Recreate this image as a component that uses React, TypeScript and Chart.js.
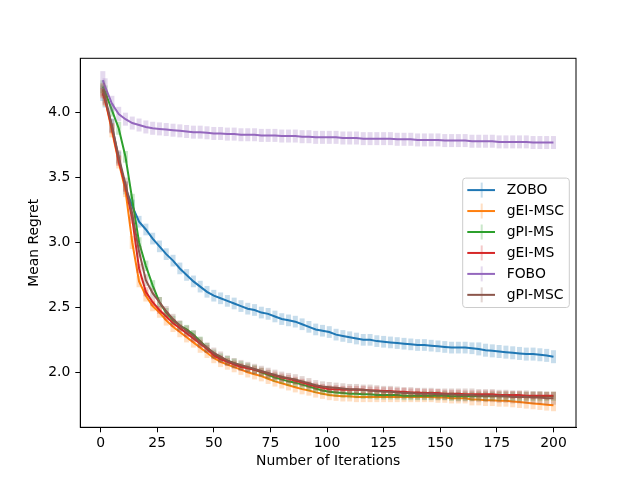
import { useEffect, useRef } from "react";
import { Chart, registerables } from "chart.js";

Chart.register(...registerables);

// iteration numbers the values were read at
const ITERS = [
  1, 2, 5, 8, 11, 14, 17, 20, 23, 26,
  29, 32, 35, 38, 41, 44, 47, 50, 53, 56,
  59, 62, 65, 68, 71, 74, 77, 80, 83, 86,
  89, 92, 95, 98, 101, 104, 107, 110, 113, 116,
  119, 122, 125, 128, 131, 134, 137, 140, 143, 146,
  149, 152, 155, 158, 161, 164, 167, 170, 173, 176,
  179, 182, 185, 188, 191, 194, 197, 200,
];

const LABELS = ["ZOBO", "gEI-MSC", "gPI-MS", "gEI-MS", "FOBO", "gPI-MSC"];
const COLORS = ["#1f77b4", "#ff7f0e", "#2ca02c", "#d62728", "#9467bd", "#8c564b"];

const ZOBO = [
  4.15, 4.1, 3.9, 3.65, 3.42, 3.28, 3.16, 3.1, 3.03, 2.97,
  2.91, 2.86, 2.8, 2.75, 2.7, 2.66, 2.62, 2.59, 2.57, 2.55,
  2.53, 2.51, 2.49, 2.48, 2.46, 2.45, 2.43, 2.41, 2.4, 2.39,
  2.37, 2.35, 2.33, 2.32, 2.31, 2.29, 2.28, 2.27, 2.26, 2.25,
  2.25, 2.24, 2.235, 2.23, 2.225, 2.22, 2.215, 2.21, 2.21, 2.205,
  2.2, 2.195, 2.19, 2.19, 2.19, 2.185, 2.18, 2.17, 2.165, 2.16,
  2.155, 2.15, 2.145, 2.14, 2.14, 2.135, 2.13, 2.12,
];
const GEI_MSC = [
  4.17, 4.1, 3.86, 3.62, 3.4, 3.0, 2.7, 2.59, 2.51, 2.46,
  2.4, 2.35, 2.31, 2.27, 2.23, 2.19, 2.15, 2.11, 2.08, 2.06,
  2.04, 2.02, 2.0, 1.985, 1.97, 1.95, 1.93, 1.915, 1.9, 1.885,
  1.87, 1.86, 1.845, 1.835, 1.825, 1.82, 1.815, 1.815, 1.81, 1.81,
  1.81, 1.81, 1.81, 1.81, 1.81, 1.81, 1.81, 1.81, 1.81, 1.81,
  1.805, 1.805, 1.8, 1.8, 1.8, 1.79, 1.79, 1.785, 1.785, 1.78,
  1.78, 1.775, 1.77, 1.765, 1.76, 1.755, 1.75, 1.745,
];
const GPI_MS = [
  4.2, 4.16, 4.02, 3.88, 3.66, 3.33, 3.0, 2.82, 2.67, 2.54,
  2.46, 2.4, 2.36, 2.33, 2.29, 2.24, 2.19, 2.14, 2.11, 2.09,
  2.07, 2.05, 2.035, 2.02, 2.0, 1.98, 1.96, 1.945, 1.93, 1.92,
  1.905, 1.89, 1.875, 1.86, 1.85, 1.845, 1.84, 1.835, 1.835, 1.83,
  1.83, 1.825, 1.825, 1.825, 1.825, 1.82, 1.82, 1.82, 1.82, 1.82,
  1.82, 1.82, 1.815, 1.815, 1.815, 1.815, 1.815, 1.815, 1.815, 1.815,
  1.815, 1.815, 1.815, 1.815, 1.815, 1.815, 1.815, 1.815,
];
const GEI_MS = [
  4.15, 4.1, 3.88, 3.63, 3.43, 3.18, 2.8, 2.62, 2.54, 2.48,
  2.43, 2.38, 2.34, 2.3, 2.26, 2.22, 2.18, 2.13, 2.1, 2.08,
  2.06, 2.04, 2.03, 2.02, 2.005, 1.99, 1.975, 1.96, 1.95, 1.935,
  1.92, 1.905, 1.89, 1.88, 1.87, 1.87, 1.865, 1.865, 1.865, 1.865,
  1.86, 1.86, 1.855, 1.855, 1.85, 1.85, 1.845, 1.845, 1.84, 1.84,
  1.84, 1.835, 1.835, 1.835, 1.83, 1.83, 1.83, 1.83, 1.83, 1.825,
  1.825, 1.825, 1.825, 1.82, 1.82, 1.82, 1.82, 1.82,
];
const FOBO = [
  4.25, 4.2, 4.07, 3.99, 3.95, 3.92, 3.905, 3.89, 3.88, 3.875,
  3.87, 3.865, 3.86, 3.855, 3.85, 3.85, 3.845, 3.84, 3.84, 3.835,
  3.835, 3.83, 3.83, 3.83, 3.825, 3.825, 3.825, 3.82, 3.82, 3.82,
  3.815, 3.815, 3.81, 3.81, 3.81, 3.81, 3.805, 3.805, 3.805, 3.8,
  3.8, 3.8, 3.8, 3.8, 3.795, 3.795, 3.795, 3.79, 3.79, 3.79,
  3.79, 3.785, 3.785, 3.785, 3.785, 3.78, 3.78, 3.78, 3.78, 3.775,
  3.775, 3.775, 3.775, 3.775, 3.77, 3.77, 3.77, 3.77,
];
const GPI_MSC = [
  4.18, 4.12, 3.9, 3.66, 3.45, 3.22, 2.93, 2.71, 2.61, 2.54,
  2.47, 2.41, 2.36, 2.32, 2.28, 2.23, 2.19, 2.15, 2.12, 2.09,
  2.07, 2.055, 2.04, 2.025, 2.01, 1.995, 1.98, 1.965, 1.955, 1.945,
  1.93, 1.915, 1.9, 1.89, 1.885, 1.88, 1.875, 1.87, 1.87, 1.865,
  1.86, 1.855, 1.85, 1.85, 1.845, 1.84, 1.84, 1.835, 1.835, 1.835,
  1.83, 1.83, 1.83, 1.825, 1.825, 1.825, 1.82, 1.82, 1.82, 1.815,
  1.815, 1.81, 1.81, 1.81, 1.805, 1.805, 1.8, 1.8,
];

// half widths of the error bars
const ZOBO_ERR = [
  0.06, 0.06, 0.055, 0.05, 0.05, 0.05, 0.045, 0.045, 0.045, 0.045,
  0.045, 0.045, 0.045, 0.045, 0.045, 0.045, 0.045, 0.045, 0.045, 0.045,
  0.045, 0.045, 0.045, 0.045, 0.045, 0.045, 0.045, 0.045, 0.045, 0.045,
  0.045, 0.045, 0.045, 0.045, 0.045, 0.045, 0.045, 0.045, 0.045, 0.045,
  0.045, 0.045, 0.045, 0.045, 0.045, 0.045, 0.045, 0.045, 0.045, 0.045,
  0.045, 0.045, 0.045, 0.045, 0.045, 0.045, 0.05, 0.05, 0.05, 0.05,
  0.05, 0.05, 0.05, 0.05, 0.05, 0.05, 0.05, 0.05,
];
const GEI_MSC_ERR = [
  0.05, 0.05, 0.05, 0.05, 0.05, 0.05, 0.045, 0.045, 0.04, 0.04,
  0.04, 0.04, 0.04, 0.04, 0.04, 0.04, 0.04, 0.04, 0.04, 0.04,
  0.04, 0.04, 0.04, 0.04, 0.04, 0.04, 0.04, 0.04, 0.04, 0.04,
  0.04, 0.04, 0.04, 0.04, 0.04, 0.04, 0.04, 0.04, 0.04, 0.04,
  0.04, 0.04, 0.04, 0.04, 0.04, 0.04, 0.04, 0.04, 0.04, 0.04,
  0.04, 0.04, 0.04, 0.04, 0.04, 0.045, 0.045, 0.045, 0.045, 0.045,
  0.045, 0.045, 0.045, 0.045, 0.045, 0.045, 0.045, 0.045,
];
const GPI_MS_ERR = [
  0.05, 0.05, 0.05, 0.05, 0.045, 0.045, 0.04, 0.04, 0.04, 0.04,
  0.035, 0.035, 0.035, 0.035, 0.035, 0.035, 0.035, 0.035, 0.035, 0.035,
  0.035, 0.035, 0.035, 0.035, 0.035, 0.035, 0.035, 0.035, 0.035, 0.035,
  0.035, 0.035, 0.035, 0.035, 0.035, 0.035, 0.035, 0.035, 0.035, 0.035,
  0.035, 0.035, 0.035, 0.035, 0.035, 0.035, 0.035, 0.035, 0.035, 0.035,
  0.035, 0.035, 0.035, 0.035, 0.035, 0.035, 0.035, 0.035, 0.035, 0.035,
  0.035, 0.035, 0.035, 0.035, 0.035, 0.035, 0.035, 0.035,
];
const GEI_MS_ERR = [
  0.04, 0.04, 0.04, 0.04, 0.04, 0.035, 0.035, 0.035, 0.03, 0.03,
  0.03, 0.03, 0.03, 0.03, 0.03, 0.03, 0.03, 0.03, 0.03, 0.03,
  0.03, 0.03, 0.03, 0.03, 0.03, 0.03, 0.03, 0.03, 0.03, 0.03,
  0.03, 0.03, 0.03, 0.03, 0.03, 0.03, 0.03, 0.03, 0.03, 0.03,
  0.03, 0.03, 0.03, 0.03, 0.03, 0.03, 0.03, 0.03, 0.03, 0.03,
  0.03, 0.03, 0.03, 0.03, 0.03, 0.03, 0.03, 0.03, 0.03, 0.03,
  0.03, 0.03, 0.03, 0.03, 0.03, 0.03, 0.03, 0.03,
];
const FOBO_ERR = [
  0.07, 0.065, 0.06, 0.055, 0.05, 0.05, 0.05, 0.05, 0.05, 0.05,
  0.05, 0.05, 0.05, 0.05, 0.05, 0.05, 0.05, 0.05, 0.05, 0.05,
  0.05, 0.05, 0.05, 0.05, 0.05, 0.05, 0.05, 0.05, 0.05, 0.05,
  0.05, 0.05, 0.05, 0.05, 0.05, 0.05, 0.05, 0.05, 0.05, 0.05,
  0.05, 0.05, 0.05, 0.05, 0.05, 0.05, 0.05, 0.05, 0.05, 0.05,
  0.05, 0.05, 0.05, 0.05, 0.05, 0.05, 0.05, 0.05, 0.05, 0.05,
  0.05, 0.05, 0.05, 0.05, 0.05, 0.05, 0.05, 0.05,
];
const GPI_MSC_ERR = [
  0.05, 0.05, 0.05, 0.05, 0.05, 0.05, 0.045, 0.045, 0.04, 0.04,
  0.04, 0.04, 0.04, 0.04, 0.04, 0.04, 0.04, 0.04, 0.04, 0.04,
  0.04, 0.04, 0.04, 0.04, 0.04, 0.04, 0.04, 0.04, 0.04, 0.04,
  0.04, 0.04, 0.04, 0.04, 0.04, 0.04, 0.04, 0.04, 0.04, 0.04,
  0.045, 0.045, 0.045, 0.045, 0.045, 0.045, 0.045, 0.045, 0.045, 0.045,
  0.045, 0.045, 0.045, 0.05, 0.05, 0.05, 0.05, 0.05, 0.05, 0.05,
  0.05, 0.05, 0.05, 0.05, 0.05, 0.05, 0.05, 0.05,
];

const MEANS = [ZOBO, GEI_MSC, GPI_MS, GEI_MS, FOBO, GPI_MSC];
const ERRORS = [ZOBO_ERR, GEI_MSC_ERR, GPI_MS_ERR, GEI_MS_ERR, FOBO_ERR, GPI_MSC_ERR];

const X_TICKS = [0, 25, 50, 75, 100, 125, 150, 175, 200];
const Y_TICKS = [2.0, 2.5, 3.0, 3.5, 4.0];

const FONT = "DejaVu Sans";
const FONT_SIZE = 13.9;

function withAlpha(hex: string, a: number) {
  const n = parseInt(hex.slice(1), 16);
  return `rgba(${(n >> 16) & 255}, ${(n >> 8) & 255}, ${n & 255}, ${a})`;
}

// light error bars, drawn just before each series' line
const errorBarPlugin = {
  id: "errorBars",
  beforeDatasetDraw(chart: any, args: any) {
    const i = args.index;
    const { ctx, chartArea, scales } = chart;
    const mean = MEANS[i];
    const err = ERRORS[i];
    ctx.save();
    ctx.beginPath();
    ctx.rect(chartArea.left, chartArea.top, chartArea.width, chartArea.height);
    ctx.clip();
    ctx.fillStyle = withAlpha(COLORS[i], 0.25);
    ITERS.forEach((it, j) => {
      const x = scales.x.getPixelForValue(it);
      const y1 = scales.y.getPixelForValue(mean[j] + err[j]);
      const y2 = scales.y.getPixelForValue(mean[j] - err[j]);
      ctx.fillRect(x - 2.5, y1, 5, y2 - y1);
    });
    ctx.restore();
  },
};

// axes frame and matplotlib-like legend
const framePlugin = {
  id: "frameLegend",
  afterDraw(chart: any) {
    const { ctx, chartArea } = chart;
    ctx.save();
    ctx.strokeStyle = "#000";
    ctx.lineWidth = 1;
    ctx.strokeRect(chartArea.left, chartArea.top, chartArea.width, chartArea.height);

    const w = 106.6;
    const h = 129.4;
    const x0 = chartArea.right - 6.7 - w;
    const y0 = (chartArea.top + chartArea.bottom) / 2 - h / 2;
    ctx.beginPath();
    if (ctx.roundRect) ctx.roundRect(x0, y0, w, h, 3);
    else ctx.rect(x0, y0, w, h);
    ctx.fillStyle = "rgba(255,255,255,0.8)";
    ctx.fill();
    ctx.strokeStyle = "#cccccc";
    ctx.stroke();

    ctx.font = `${FONT_SIZE}px "${FONT}"`;
    ctx.textBaseline = "middle";
    ctx.textAlign = "left";
    LABELS.forEach((label, k) => {
      const y = y0 + 12 + k * 20.95;
      ctx.fillStyle = withAlpha(COLORS[k], 0.25);
      ctx.fillRect(x0 + 18, y - 7.5, 2, 15);
      ctx.strokeStyle = COLORS[k];
      ctx.lineWidth = 2;
      ctx.beginPath();
      ctx.moveTo(x0 + 4.6, y);
      ctx.lineTo(x0 + 32.3, y);
      ctx.stroke();
      ctx.fillStyle = "#000";
      ctx.fillText(label, x0 + 44, y + 0.5);
    });
    ctx.restore();
  },
};

export default function App() {
  const canvasRef = useRef<HTMLCanvasElement>(null);
  const chartRef = useRef<Chart | null>(null);

  useEffect(() => {
    if (!canvasRef.current) return;
    if (chartRef.current) chartRef.current.destroy();

    Chart.defaults.font.family = FONT;
    Chart.defaults.font.size = FONT_SIZE;
    Chart.defaults.color = "#000";

    chartRef.current = new Chart(canvasRef.current, {
      type: "line",
      data: {
        datasets: LABELS.map((label, i) => ({
          label,
          data: ITERS.map((x, j) => ({ x, y: MEANS[i][j] })),
          borderColor: COLORS[i],
          backgroundColor: COLORS[i],
          borderWidth: 2,
          pointRadius: 0,
          tension: 0,
          fill: false,
          order: LABELS.length - 1 - i,
        })),
      },
      options: {
        responsive: false,
        animation: false,
        layout: { padding: { left: 0, right: 64, top: 58.3, bottom: 0 } },
        plugins: {
          legend: { display: false },
          tooltip: { enabled: false },
        },
        scales: {
          x: {
            type: "linear",
            min: -8.95,
            max: 209.95,
            afterBuildTicks: (scale: any) => {
              scale.ticks = X_TICKS.map((value) => ({ value }));
            },
            afterFit: (scale: any) => {
              scale.height = 480 - 427.3;
            },
            ticks: { padding: 3, callback: (v: any) => String(v) },
            grid: { drawOnChartArea: false, tickLength: 5, color: "#000" },
            border: { color: "#000" },
            title: {
              display: true,
              text: "Number of Iterations",
              padding: { top: 4, bottom: 10 },
            },
          },
          y: {
            type: "linear",
            min: 1.576,
            max: 4.419,
            afterBuildTicks: (scale: any) => {
              scale.ticks = Y_TICKS.map((value) => ({ value }));
            },
            afterFit: (scale: any) => {
              scale.width = 80.3;
            },
            ticks: { padding: 5, callback: (v: any) => Number(v).toFixed(1) },
            grid: { drawOnChartArea: false, tickLength: 5, color: "#000" },
            border: { color: "#000" },
            title: {
              display: true,
              text: "Mean Regret",
              padding: { top: 26.5, bottom: 4 },
            },
          },
        },
      },
      plugins: [errorBarPlugin, framePlugin],
    });

    return () => {
      if (chartRef.current) {
        chartRef.current.destroy();
        chartRef.current = null;
      }
    };
  }, []);

  return (
    <div style={{ position: "fixed", left: 0, top: 0, width: 640, height: 480, background: "#fff" }}>
      <canvas ref={canvasRef} width={640} height={480} />
    </div>
  );
}
